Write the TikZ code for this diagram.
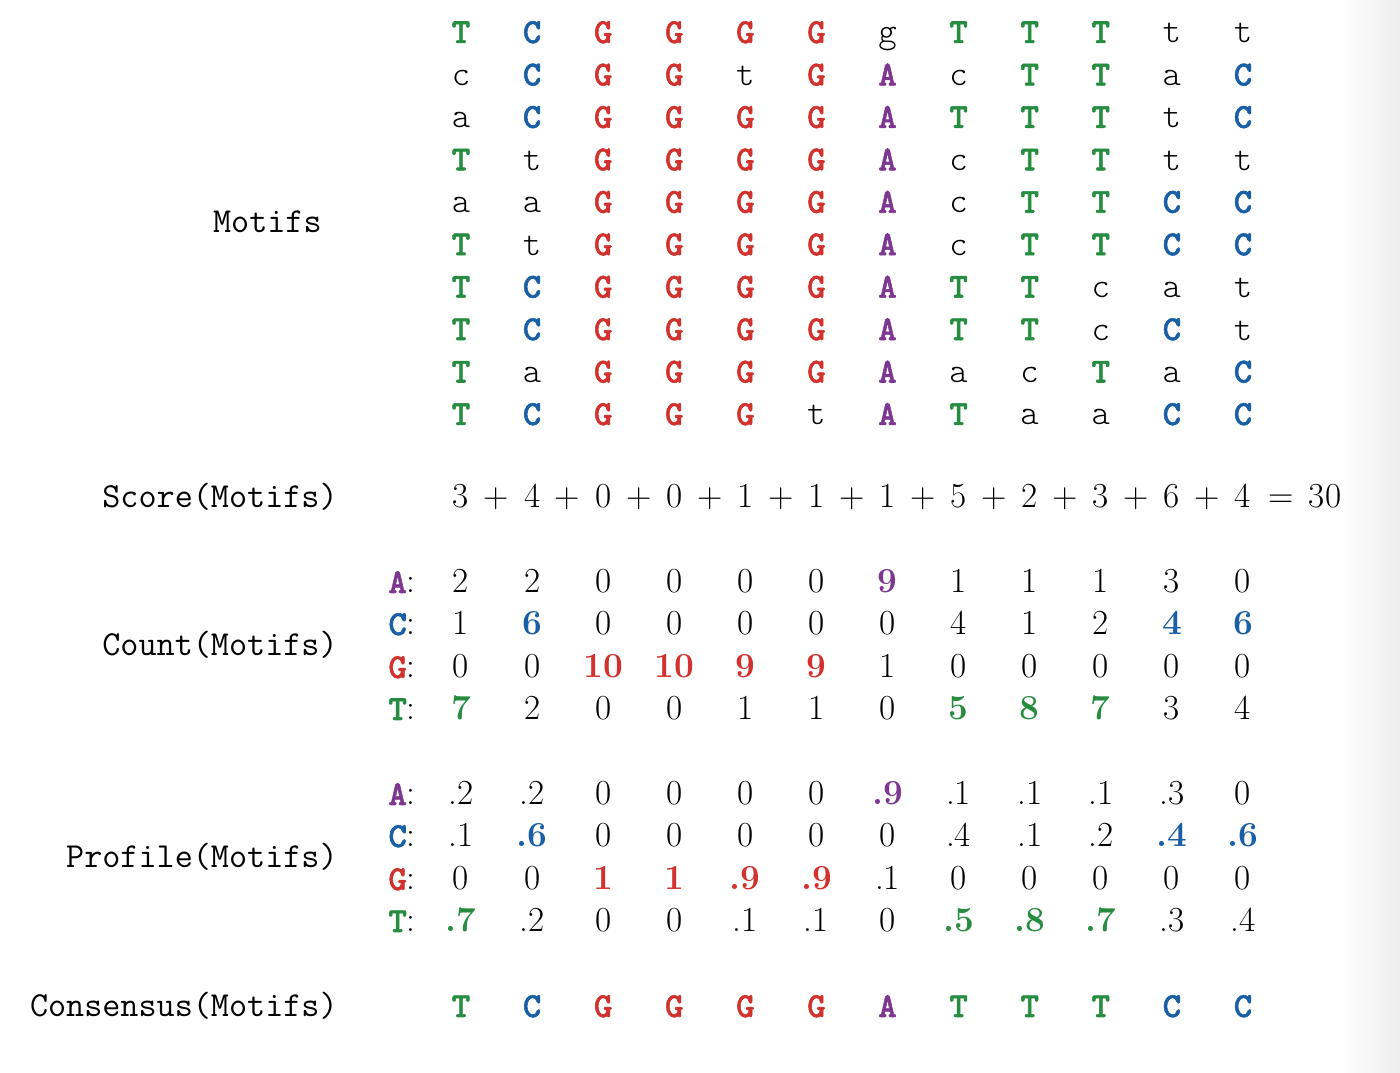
\documentclass[tikz,border=0pt]{standalone}
\usepackage{xcolor}
\usepackage{fontspec}

\newfontfamily\ntbf{lmmonolt10-bold.otf}[FakeBold=1.5]

\definecolor{ntA}{RGB}{125,55,145}
\definecolor{ntC}{RGB}{25,95,165}
\definecolor{ntG}{RGB}{210,50,45}
\definecolor{ntT}{RGB}{38,140,64}

\newcommand{\bigfs}{\fontsize{20}{24}\selectfont}

\tikzstyle{nt}=[inner sep=0pt, text height=12.5pt, text depth=0pt, font=\bigfs\ttfamily]
\tikzstyle{nt-up}=[nt, font=\bigfs\ntbf]
\tikzstyle{nt-a}=[nt, font=\bigfs\ttfamily\fontseries{l}\selectfont]
\tikzstyle{nt-c}=[nt-a]
\tikzstyle{nt-g}=[nt-a]
\tikzstyle{nt-t}=[nt-a]
\tikzstyle{nt-A}=[nt-up, text=ntA]
\tikzstyle{nt-C}=[nt-up, text=ntC]
\tikzstyle{nt-G}=[nt-up, text=ntG]
\tikzstyle{nt-T}=[nt-up, text=ntT]
\tikzstyle{num-n}=[inner sep=0pt, text height=12.5pt, text depth=0pt, font=\bigfs]
\tikzstyle{num-A}=[num-n, font=\bigfs\bfseries, text=ntA]
\tikzstyle{num-C}=[num-n, font=\bigfs\bfseries, text=ntC]
\tikzstyle{num-G}=[num-n, font=\bigfs\bfseries, text=ntG]
\tikzstyle{num-T}=[num-n, font=\bigfs\bfseries, text=ntT]
\tikzstyle{lbl}=[inner sep=0pt, text height=12.5pt, text depth=0pt, anchor=east, font=\bigfs\ttfamily]
\tikzstyle{rlbl}=[lbl, font=\bigfs]

\begin{document}
\begin{tikzpicture}[x=0.02cm, y=-0.02cm]
  \useasboundingbox (0,0) rectangle (1400,1072);
  \shade[left color=white, right color=black!7] (1340,0) rectangle (1400,1072);

  % row titles
  \node[lbl] (motifs)  at (322,222)  {Motifs};
  \node[lbl] (score)   at (338,497)  {Score(Motifs)};
  \node[lbl] (count)   at (338,645)  {Count(Motifs)};
  \node[lbl] (profile) at (338,857)  {Profile(Motifs)};
  \node[lbl] (cons)    at (338,1006) {Consensus(Motifs)};

  % motifs
  \foreach \row [count=\i] in {{T,C,G,G,G,G,g,T,T,T,t,t},
                               {c,C,G,G,t,G,A,c,T,T,a,C},
                               {a,C,G,G,G,G,A,T,T,T,t,C},
                               {T,t,G,G,G,G,A,c,T,T,t,t},
                               {a,a,G,G,G,G,A,c,T,T,C,C},
                               {T,t,G,G,G,G,A,c,T,T,C,C},
                               {T,C,G,G,G,G,A,T,T,c,a,t},
                               {T,C,G,G,G,G,A,T,T,c,C,t},
                               {T,a,G,G,G,G,A,a,c,T,a,C},
                               {T,C,G,G,G,t,A,T,a,a,C,C}}
    \foreach \b [count=\j] in \row
      \node[nt-\b] (m-\i-\j) at ({389.9+71.09*\j},{-10.44+42.44*\i}) {\b};

  % score
  \foreach \v [count=\j] in {3,4,0,0,1,1,1,5,2,3,6,4}
    \node[num-n] (s-\j) at ({389.9+71.09*\j},497) {\v};
  \foreach \j in {1,...,11}
    \node[num-n] (plus-\j) at ({425.4+71.09*\j},497) {+};
  \node[num-n] (eq)  at (1281,497) {=};
  \node[num-n] (tot) at (1325,497) {30};

  % count
  \node[rlbl] (c-A) at (416,582) {\textcolor{ntA}{\ntbf A}:};
  \node[rlbl] (c-C) at (416,624) {\textcolor{ntC}{\ntbf C}:};
  \node[rlbl] (c-G) at (416,667) {\textcolor{ntG}{\ntbf G}:};
  \node[rlbl] (c-T) at (416,709) {\textcolor{ntT}{\ntbf T}:};
  \foreach \v/\s [count=\j] in {2/n,2/n,0/n,0/n,0/n,0/n,9/A,1/n,1/n,1/n,3/n,0/n}
    \node[num-\s] (cA-\j) at ({389.9+71.09*\j},582) {\v};
  \foreach \v/\s [count=\j] in {1/n,6/C,0/n,0/n,0/n,0/n,0/n,4/n,1/n,2/n,4/C,6/C}
    \node[num-\s] (cC-\j) at ({389.9+71.09*\j},624) {\v};
  \foreach \v/\s [count=\j] in {0/n,0/n,10/G,10/G,9/G,9/G,1/n,0/n,0/n,0/n,0/n,0/n}
    \node[num-\s] (cG-\j) at ({389.9+71.09*\j},667) {\v};
  \foreach \v/\s [count=\j] in {7/T,2/n,0/n,0/n,1/n,1/n,0/n,5/T,8/T,7/T,3/n,4/n}
    \node[num-\s] (cT-\j) at ({389.9+71.09*\j},709) {\v};

  % profile
  \node[rlbl] (p-A) at (416,794) {\textcolor{ntA}{\ntbf A}:};
  \node[rlbl] (p-C) at (416,836) {\textcolor{ntC}{\ntbf C}:};
  \node[rlbl] (p-G) at (416,879) {\textcolor{ntG}{\ntbf G}:};
  \node[rlbl] (p-T) at (416,921) {\textcolor{ntT}{\ntbf T}:};
  \foreach \v/\s [count=\j] in {.2/n,.2/n,0/n,0/n,0/n,0/n,.9/A,.1/n,.1/n,.1/n,.3/n,0/n}
    \node[num-\s] (pA-\j) at ({389.9+71.09*\j},794) {\v};
  \foreach \v/\s [count=\j] in {.1/n,.6/C,0/n,0/n,0/n,0/n,0/n,.4/n,.1/n,.2/n,.4/C,.6/C}
    \node[num-\s] (pC-\j) at ({389.9+71.09*\j},836) {\v};
  \foreach \v/\s [count=\j] in {0/n,0/n,1/G,1/G,.9/G,.9/G,.1/n,0/n,0/n,0/n,0/n,0/n}
    \node[num-\s] (pG-\j) at ({389.9+71.09*\j},879) {\v};
  \foreach \v/\s [count=\j] in {.7/T,.2/n,0/n,0/n,.1/n,.1/n,0/n,.5/T,.8/T,.7/T,.3/n,.4/n}
    \node[num-\s] (pT-\j) at ({389.9+71.09*\j},921) {\v};

  % consensus
  \foreach \b [count=\j] in {T,C,G,G,G,G,A,T,T,T,C,C}
    \node[nt-\b] (cs-\j) at ({389.9+71.09*\j},1006) {\b};
\end{tikzpicture}
\end{document}
